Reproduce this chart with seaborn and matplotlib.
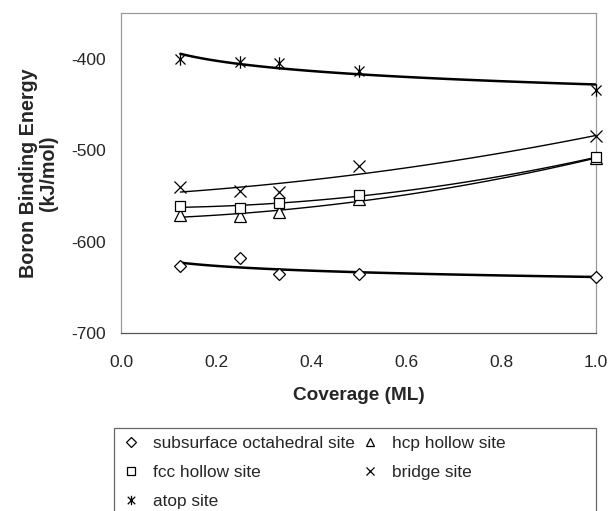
import matplotlib
matplotlib.use('Agg')
import matplotlib.pyplot as plt
import seaborn as sns
import pandas as pd
from matplotlib.patches import Rectangle
from matplotlib.path import Path

# Coverage (ML) and binding energies (kJ/mol)
coverage = [0.125, 0.25, 0.333, 0.5, 1.0]
subsurface = [-627, -618, -635, -635, -639]
hcp_hollow = [-571, -572, -568, -553, -509]
fcc_hollow = [-561, -563, -558, -549, -508]
bridge = [-540, -545, -546, -517, -485]
atop = [-400, -404, -405, -413, -434]

y_ticks = [-700, -600, -500, -400]
x_ticks = [0.0, 0.2, 0.4, 0.6, 0.8, 1.0]

sns.set_style('white')
plt.rcParams['font.family'] = ['Liberation Sans', 'DejaVu Sans']
plt.rcParams['axes.unicode_minus'] = False

# Excel style asterisk: an x with a vertical bar through it
asterisk = Path([(-1, -1), (1, 1), (-1, 1), (1, -1), (0, -1.25), (0, 1.25)],
                [Path.MOVETO, Path.LINETO, Path.MOVETO, Path.LINETO, Path.MOVETO, Path.LINETO])

fig = plt.figure(figsize=(6.11, 5.11), dpi=100)
ax = fig.add_axes([121 / 611, 1 - 333 / 511, 475 / 611, 320 / 511])

# name, values, marker, trend fit, line width
series = [
    ('subsurface octahedral site', subsurface, 'D', 'log', 1.8),
    ('hcp hollow site', hcp_hollow, '^', 2, 1.0),
    ('fcc hollow site', fcc_hollow, 's', 2, 1.0),
    ('bridge site', bridge, 'x', 2, 1.0),
    ('atop site', atop, asterisk, 'log', 1.8),
]

handles = {}
for name, vals, marker, fit, lw in series:
    df = pd.DataFrame({'x': coverage, 'y': vals})
    if fit == 'log':
        sns.regplot(data=df, x='x', y='y', logx=True, ci=None, scatter=False,
                    color='black', line_kws={'lw': lw}, ax=ax)
    else:
        sns.regplot(data=df, x='x', y='y', order=fit, ci=None, scatter=False,
                    color='black', line_kws={'lw': lw}, ax=ax)
    filled = isinstance(marker, str) and marker in ('D', '^', 's')
    size = {'D': 6.5, '^': 8, 's': 7.5, 'x': 8}.get(marker, 9) if isinstance(marker, str) else 9
    h, = ax.plot(coverage, vals, linestyle='none', marker=marker, markersize=size,
                 markerfacecolor='white' if filled else 'none',
                 markeredgecolor='black', markeredgewidth=0.9, label=name, clip_on=False,
                 zorder=4)
    handles[name] = h

ax.set_xlim(0, 1.0)
ax.set_ylim(-700, -350)
ax.set_xticks(x_ticks)
ax.set_xticklabels([f'{t:.1f}' for t in x_ticks])
ax.set_yticks(y_ticks)
ax.tick_params(axis='both', direction='out', length=5, width=0.8, color='#808080',
               labelsize=12.5)
ax.tick_params(axis='x', pad=11)
ax.tick_params(axis='y', pad=6)
ax.set_xlabel('Coverage (ML)', fontsize=13.7, fontweight='bold', labelpad=12)
ax.set_ylabel('Boron Binding Energy\n(kJ/mol)', fontsize=14.2, fontweight='bold',
              labelpad=9, linespacing=1.1)
for side in ['top', 'right', 'left']:
    ax.spines[side].set_color('#9a9a9a')
    ax.spines[side].set_linewidth(0.9)
ax.spines['bottom'].set_color('#555555')
ax.spines['bottom'].set_linewidth(0.9)

# legend below the plot, box runs off the bottom edge like the original
order = ['subsurface octahedral site', 'fcc hollow site', 'atop site',
         'hcp hollow site', 'bridge site']
fig.legend([handles[n] for n in order], order, ncol=2, frameon=False,
           loc='upper left', bbox_to_anchor=(105 / 611, 1 - 420 / 511),
           fontsize=12.4, labelspacing=0.83, columnspacing=0.25,
           handlelength=1.2, handletextpad=0.7, markerscale=0.75)
fig.patches.append(Rectangle((114 / 611, -0.05), 482 / 611, 1 - 428 / 511 + 0.05,
                             transform=fig.transFigure, fill=False,
                             edgecolor='#666666', lw=0.9))

fig.savefig('out.png', dpi=100)
